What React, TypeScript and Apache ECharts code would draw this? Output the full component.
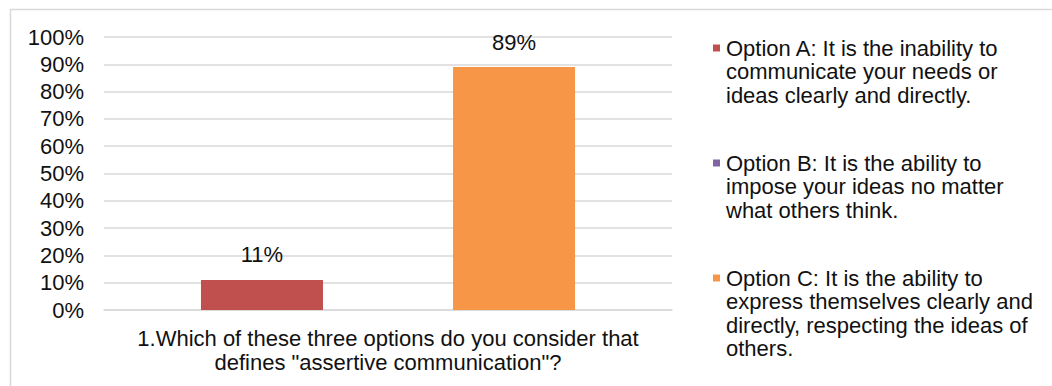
import React, { useEffect, useRef } from "react";
import * as echarts from "echarts";

const categories = ['1.Which of these three options do you consider that\ndefines "assertive communication"?'];
const seriesNames = [
  "Option A: It is the inability to\ncommunicate your needs or\nideas clearly and directly.",
  "Option B: It is the ability to\nimpose your ideas no matter\nwhat others think.",
  "Option C: It is the ability to\nexpress themselves clearly and\ndirectly, respecting the ideas of\nothers.",
];
const optionA = [11];
const optionB = [0];
const optionC = [89];
const seriesColors = ["#c0504d", "#8064a2", "#f79646"];
const yTicks = { min: 0, max: 100, interval: 10 };

const FONT = "'Liberation Sans', Arial, Helvetica, sans-serif";
const LH = 23.5;
const legendCenters = [48, 163, 278];

export default function App() {
  const ref = useRef<HTMLDivElement>(null);
  useEffect(() => {
    document.body.style.margin = "0";
    if (!ref.current) return;
    const chart = echarts.init(ref.current, undefined, { renderer: "svg" });
    const values = [optionA, optionB, optionC];
    const legendGraphics: any[] = [];
    seriesNames.forEach((name, i) => {
      const c = legendCenters[i];
      legendGraphics.push({
        type: "rect",
        shape: { x: 713, y: c - 3.5, width: 7, height: 7 },
        style: { fill: seriesColors[i] },
        silent: true,
      });
      legendGraphics.push({
        type: "text",
        x: 726,
        y: c - LH / 2,
        style: {
          text: name,
          fontSize: 22,
          fontFamily: FONT,
          lineHeight: LH,
          fill: "#111",
          verticalAlign: "top",
          align: "left",
        },
        silent: true,
      });
    });
    chart.setOption({
      animation: false,
      textStyle: { fontFamily: FONT },
      grid: { left: 104, right: 380, top: 37, bottom: 76, containLabel: false },
      graphic: [
        {
          type: "rect",
          shape: { x: 10.5, y: 9.5, width: 1100, height: 500 },
          style: { fill: "none", stroke: "#d9d9d9", lineWidth: 1.5 },
          silent: true,
        },
        ...legendGraphics,
      ],
      xAxis: {
        type: "category",
        data: categories,
        axisLine: { show: true, lineStyle: { color: "#d9d9d9", width: 1.5 } },
        axisTick: { show: false },
        axisLabel: {
          margin: 16,
          fontSize: 22,
          lineHeight: 24,
          color: "#111",
          fontFamily: FONT,
          align: "center",
        },
      },
      yAxis: {
        type: "value",
        min: yTicks.min,
        max: yTicks.max,
        interval: yTicks.interval,
        axisLine: { show: false },
        axisTick: { show: false },
        splitLine: { lineStyle: { color: "#d9d9d9", width: 1.5 } },
        axisLabel: {
          margin: 20,
          fontSize: 22,
          color: "#111",
          fontFamily: FONT,
          formatter: (v: number) => `${v}%`,
        },
      },
      series: seriesNames.map((name, i) => ({
        name,
        type: "bar",
        data: values[i],
        barWidth: 122,
        barGap: "3.3%",
        itemStyle: { color: seriesColors[i] },
        label: {
          show: values[i][0] > 0,
          position: "top",
          distance: 14,
          fontSize: 22,
          color: "#111",
          fontFamily: FONT,
          formatter: (p: any) => `${p.value}%`,
        },
      })),
    });
    return () => chart.dispose();
  }, []);
  return <div ref={ref} style={{ width: 1052, height: 386 }} />;
}
